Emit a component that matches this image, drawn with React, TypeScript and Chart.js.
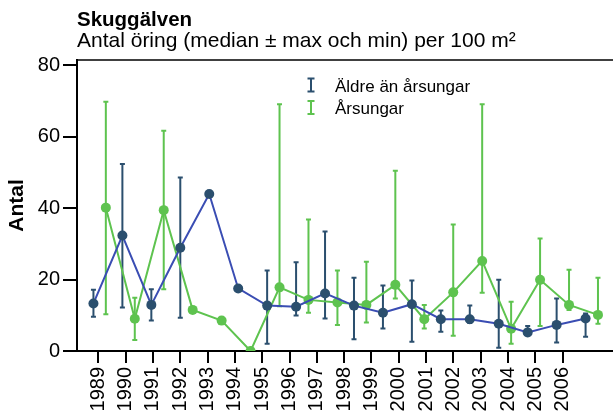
import React, { useEffect, useRef } from 'react';
import { Chart, registerables } from 'chart.js';

Chart.register(...registerables);

const FONT = "'Liberation Sans', Arial, Helvetica, sans-serif";

const years = [1989, 1990, 1991, 1992, 1993, 1994, 1995, 1996, 1997, 1998, 1999, 2000, 2001, 2002, 2003, 2004, 2005, 2006];

// Äldre än årsungar
const olderMedian = [13.3, 32.3, 12.9, 28.9, 43.9, 17.5, 12.7, 12.4, 16.1, 12.7, 10.7, 13.1, 8.9, 8.9, 7.6, 5.2, 7.3, 9.1];
const olderMax = [17.1, 52.3, 17.3, 48.5, null, null, 22.5, 24.8, 33.4, 20.5, 18.3, 19.7, 11.3, 12.7, 19.9, 7.0, 14.7, 10.5];
const olderMin = [9.6, 12.2, 8.5, 9.3, null, null, 2.0, 9.9, 9.1, 3.3, 6.3, 2.6, 5.4, 7.8, 0.9, 4.5, 2.4, 4.0];

// Årsungar
const youngMedian = [40.1, 9.0, 39.4, 11.5, 8.5, 0, 17.8, 14.3, 13.6, 12.9, 18.5, 8.9, 16.4, 25.2, 6.2, 19.9, 12.9, 10.1];
const youngMax = [69.7, 14.9, 61.6, null, null, null, 69.0, 36.8, 22.5, 25.0, 50.4, 12.9, 35.4, 69.0, 13.8, 31.5, 22.7, 20.5];
const youngMin = [10.3, 3.1, 17.3, null, null, null, 12.5, 10.7, 7.3, 8.0, 14.7, 6.3, 4.3, 16.3, 2.0, 7.0, 11.5, 7.6];

const yTicks = [0, 20, 40, 60, 80];

const titleText = 'Skuggälven';
const subtitleText = 'Antal öring (median ± max och min) per 100 m²';
const yTitle = 'Antal';
const seriesNames = ['Äldre än årsungar', 'Årsungar'];

const DARK = '#2b4f6e';
const BLUE = '#3a4db3';
const GREEN = '#5ec34f';

const SHIFT = 0.214;

const errorBarPlugin = {
  id: 'errorBars',
  beforeDatasetsDraw(chart: any) {
    const ctx = chart.ctx;
    const ys = chart.scales.y;
    const sets: [number, (number | null)[], (number | null)[], string][] = [
      [0, olderMin, olderMax, DARK],
      [1, youngMin, youngMax, GREEN],
    ];
    ctx.save();
    ctx.beginPath();
    ctx.rect(chart.chartArea.left, chart.chartArea.top - 2, chart.chartArea.right - chart.chartArea.left, chart.chartArea.bottom - chart.chartArea.top + 4);
    ctx.clip();
    sets.forEach(([di, mins, maxs, color]) => {
      const meta = chart.getDatasetMeta(di);
      meta.data.forEach((pt: any, i: number) => {
        const hi = maxs[i];
        const lo = mins[i];
        if (hi == null || lo == null) return;
        const x = pt.x;
        const y1 = ys.getPixelForValue(hi);
        const y2 = ys.getPixelForValue(lo);
        ctx.strokeStyle = color;
        ctx.lineWidth = 2;
        ctx.beginPath();
        ctx.moveTo(x, y1);
        ctx.lineTo(x, y2);
        ctx.moveTo(x - 2.5, y1);
        ctx.lineTo(x + 2.5, y1);
        ctx.moveTo(x - 2.5, y2);
        ctx.lineTo(x + 2.5, y2);
        ctx.stroke();
      });
    });
    ctx.restore();
  },
};

const decorPlugin = {
  id: 'decor',
  afterDraw(chart: any) {
    const ctx = chart.ctx;
    const { left, right, top } = chart.chartArea;
    ctx.save();
    // top frame line
    ctx.strokeStyle = '#000';
    ctx.lineWidth = 1.5;
    ctx.beginPath();
    ctx.moveTo(left - 1, top);
    ctx.lineTo(right, top);
    ctx.stroke();

    // titles
    ctx.fillStyle = '#000';
    ctx.textAlign = 'left';
    ctx.textBaseline = 'alphabetic';
    ctx.font = `bold 20.5px ${FONT}`;
    ctx.fillText(titleText, left, 26);
    ctx.font = `21px ${FONT}`;
    ctx.fillText(subtitleText, left, 47);

    // legend
    const colors = [DARK, GREEN];
    const baselines = [91.5, 114];
    seriesNames.forEach((name, i) => {
      const b = baselines[i];
      const cx = 311;
      ctx.strokeStyle = colors[i];
      ctx.lineWidth = 2;
      ctx.beginPath();
      ctx.moveTo(cx, b - 13);
      ctx.lineTo(cx, b);
      ctx.moveTo(cx - 3.5, b - 13);
      ctx.lineTo(cx + 3.5, b - 13);
      ctx.moveTo(cx - 3.5, b);
      ctx.lineTo(cx + 3.5, b);
      ctx.stroke();
      ctx.fillStyle = '#000';
      ctx.font = `17px ${FONT}`;
      ctx.fillText(name, 335, b);
    });
    ctx.restore();
  },
};

export default function App() {
  const ref = useRef<HTMLCanvasElement | null>(null);

  useEffect(() => {
    if (!ref.current) return;
    const chart = new Chart(ref.current, {
      type: 'line',
      data: {
        datasets: [
          {
            label: seriesNames[0],
            data: olderMedian.map((v, i) => ({ x: i - SHIFT, y: v })),
            xAxisID: 'x',
            yAxisID: 'y',
            borderColor: BLUE,
            borderWidth: 2,
            pointBackgroundColor: DARK,
            pointBorderColor: DARK,
            pointRadius: 5,
            pointBorderWidth: 0,
            tension: 0,
          },
          {
            label: seriesNames[1],
            data: youngMedian.map((v, i) => ({ x: i + SHIFT, y: v })),
            xAxisID: 'x',
            yAxisID: 'y',
            borderColor: GREEN,
            borderWidth: 2,
            pointBackgroundColor: GREEN,
            pointBorderColor: GREEN,
            pointRadius: 5,
            pointBorderWidth: 0,
            tension: 0,
          },
        ],
      },
      options: {
        animation: false,
        responsive: true,
        maintainAspectRatio: false,
        layout: { autoPadding: false, padding: { top: 60, left: 0, right: 0, bottom: 0 } },
        plugins: {
          legend: { display: false },
          title: { display: false },
          tooltip: { enabled: false },
        },
        scales: {
          x: {
            type: 'linear',
            display: false,
            min: -0.782,
            max: 17.733,
          },
          xl: {
            type: 'linear',
            position: 'bottom',
            min: 1988.22,
            max: 2007.84,
            afterBuildTicks: (s: any) => {
              s.ticks = years.map((v) => ({ value: v }));
            },
            afterFit: (s: any) => {
              s.height = 65;
              s.paddingLeft = 0;
              s.paddingRight = 0;
            },
            ticks: {
              callback: (v: any) => String(v),
              minRotation: 90,
              maxRotation: 90,
              autoSkip: false,
              padding: 4,
              color: '#000',
              font: { size: 20, family: FONT },
            },
            grid: { drawOnChartArea: false, drawTicks: true, tickLength: 12, color: '#000', lineWidth: 2 },
            border: { display: true, color: '#000', width: 2 },
          },
          y: {
            type: 'linear',
            position: 'left',
            min: 0,
            max: 81.4,
            afterBuildTicks: (s: any) => {
              s.ticks = yTicks.map((v) => ({ value: v }));
            },
            afterFit: (s: any) => {
              s.width = 77;
              s.paddingTop = 0;
              s.paddingBottom = 0;
            },
            ticks: {
              padding: 3,
              color: '#000',
              font: { size: 20, family: FONT },
            },
            grid: { drawOnChartArea: false, drawTicks: true, tickLength: 14, color: '#000', lineWidth: 2 },
            border: { display: true, color: '#000', width: 2 },
            title: {
              display: true,
              text: yTitle,
              color: '#000',
              font: { size: 21, weight: 'bold', family: FONT, lineHeight: 1.2 },
              padding: { top: 5, bottom: 0 },
            },
          },
        },
      },
      plugins: [errorBarPlugin, decorPlugin],
    } as any);
    return () => chart.destroy();
  }, []);

  return (
    <div style={{ position: 'absolute', left: 0, top: 0, width: 613, height: 416, background: '#fff' }}>
      <canvas ref={ref} />
    </div>
  );
}
